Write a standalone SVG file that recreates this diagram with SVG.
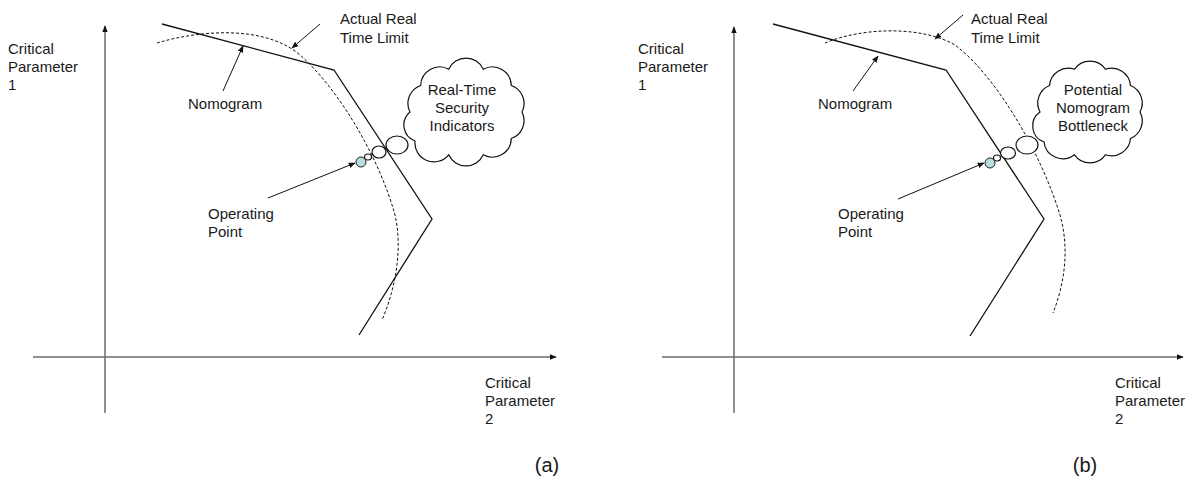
<svg xmlns="http://www.w3.org/2000/svg" width="1188" height="497" viewBox="0 0 1188 497">
<style>
text{font-family:"Liberation Sans",Arial,sans-serif;font-size:15px;fill:#1a1a1a}
.cap{font-size:20px}
.mid{text-anchor:middle}
.axis{stroke:#6a6a6a;stroke-width:1.5;fill:none}
.nomo{stroke:#111;stroke-width:1.3;fill:none}
.limit{stroke:#111;stroke-width:1;stroke-dasharray:3 2;fill:none}
.ptr{stroke:#111;stroke-width:1;fill:none;marker-end:url(#ah)}
.bub{stroke:#111;stroke-width:1.2;fill:#fff}
.op{stroke:#222;stroke-width:1;fill:#b8dde0}
</style>
<defs>
<marker id="ah" viewBox="0 0 10 10" refX="9" refY="5" markerWidth="7" markerHeight="7" markerUnits="userSpaceOnUse" orient="auto"><path d="M0,1 L10,5 L0,9 z" fill="#111"/></marker>
<marker id="axh" viewBox="0 0 10 10" refX="9" refY="5" markerWidth="7" markerHeight="7" markerUnits="userSpaceOnUse" orient="auto"><path d="M0,1 L10,5 L0,9 z" fill="#111"/></marker>
</defs>
<rect width="1188" height="497" fill="#fff"/>

<g id="connectors">
<line class="axis" x1="105" y1="413" x2="105" y2="26" marker-end="url(#axh)"/>
<line class="axis" x1="33" y1="357" x2="556" y2="357" marker-end="url(#axh)"/>
<line class="axis" x1="734" y1="413" x2="734" y2="27" marker-end="url(#axh)"/>
<line class="axis" x1="662" y1="357" x2="1183" y2="357" marker-end="url(#axh)"/>
<polyline class="nomo" points="162,24 334,70 432,219 359,335"/>
<path class="limit" d="M157,43 C200,30 265,25 300,55 C340,90 380,160 395,215 C403,250 395,290 382,320"/>
<line class="ptr" x1="320" y1="24" x2="292" y2="48"/>
<line class="ptr" x1="223" y1="91" x2="243" y2="46"/>
<line class="ptr" x1="268" y1="198" x2="355" y2="163"/>
<polyline class="nomo" points="773,24 946,70 1044,219 970,336"/>
<path class="limit" d="M825,43 C860,28 920,25 955,45 C995,75 1040,150 1060,215 C1070,250 1064,285 1053,313"/>
<line class="ptr" x1="963" y1="15" x2="935" y2="39"/>
<line class="ptr" x1="853" y1="91" x2="878" y2="56"/>
<line class="ptr" x1="898" y1="199" x2="984" y2="163"/>
</g>

<g id="axis-labels">
<text x="8" y="54">Critical</text><text x="8" y="72">Parameter</text><text x="8" y="90">1</text>
<text x="485" y="388">Critical</text><text x="485" y="406">Parameter</text><text x="485" y="424">2</text>
<text x="638" y="54">Critical</text><text x="638" y="72">Parameter</text><text x="638" y="90">1</text>
<text x="1115" y="388">Critical</text><text x="1115" y="406">Parameter</text><text x="1115" y="424">2</text>
<text class="cap mid" x="547" y="472">(a)</text>
<text class="cap mid" x="1085" y="472">(b)</text>
</g>

<g id="label-a-limit"><text x="340" y="24">Actual Real</text><text x="340" y="43">Time Limit</text></g>
<g id="label-a-nomogram"><text x="188" y="109">Nomogram</text></g>
<g id="label-a-op"><text x="208" y="219">Operating</text><text x="208" y="237">Point</text></g>
<g id="cloud-a">
<path class="bub" d="M522,112 A19,19 0 0 1 511.3,138.5 A19,19 0 0 1 483.3,154.8 A19,19 0 0 1 448.7,154.8 A19,19 0 0 1 415,141 A17,17 0 0 1 410,112 A19,19 0 0 1 420.7,85.5 A19,19 0 0 1 448.7,69.2 A19,19 0 0 1 483.3,69.2 A19,19 0 0 1 511.3,85.5 A19,19 0 0 1 522,112 Z"/>
<text class="mid" x="462" y="95">Real-Time</text><text class="mid" x="462" y="113">Security</text><text class="mid" x="462" y="131">Indicators</text>
</g>
<g id="op-a">
<ellipse class="bub" cx="397" cy="145" rx="11" ry="9"/>
<ellipse class="bub" cx="379" cy="152" rx="7" ry="6"/>
<ellipse class="bub" cx="368" cy="157" rx="3.5" ry="3"/>
<circle class="op" cx="361" cy="162" r="5"/>
</g>

<g id="label-b-limit"><text x="971" y="24">Actual Real</text><text x="971" y="43">Time Limit</text></g>
<g id="label-b-nomogram"><text x="818" y="109">Nomogram</text></g>
<g id="label-b-op"><text x="838" y="219">Operating</text><text x="838" y="237">Point</text></g>
<g id="cloud-b">
<path class="bub" d="M1140,112 A19,19 0 0 1 1130.5,138.5 A19,19 0 0 1 1105.5,154.8 A19,19 0 0 1 1074.5,154.8 A19,19 0 0 1 1044,142 A17,17 0 0 1 1040,112 A19,19 0 0 1 1049.5,85.5 A19,19 0 0 1 1074.5,69.2 A19,19 0 0 1 1105.5,69.2 A19,19 0 0 1 1130.5,85.5 A19,19 0 0 1 1140,112 Z"/>
<text class="mid" x="1093" y="95">Potential</text><text class="mid" x="1093" y="113">Nomogram</text><text class="mid" x="1093" y="131">Bottleneck</text>
</g>
<g id="op-b">
<ellipse class="bub" cx="1027" cy="145" rx="11" ry="9"/>
<ellipse class="bub" cx="1008" cy="153" rx="7.5" ry="6"/>
<ellipse class="bub" cx="997" cy="158" rx="3.5" ry="3"/>
<circle class="op" cx="990" cy="163" r="5"/>
</g>
</svg>
